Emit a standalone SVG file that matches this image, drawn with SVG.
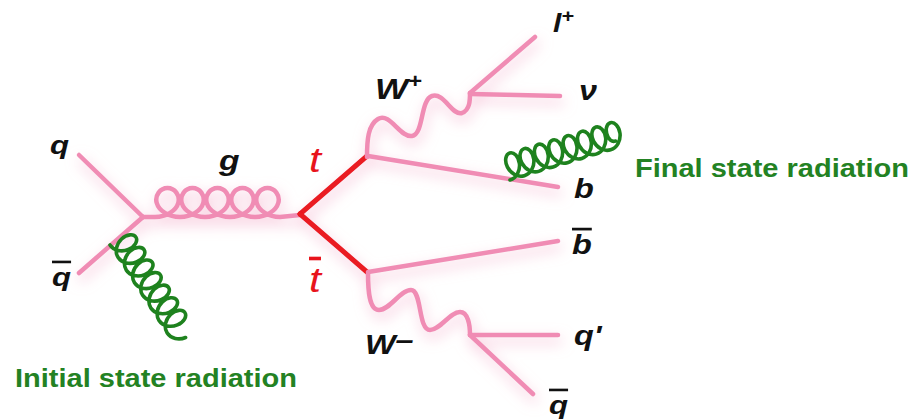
<svg xmlns="http://www.w3.org/2000/svg" width="924" height="419" viewBox="0 0 924 419">
<defs>
  <style>
    .pk{fill:none;stroke:#f08cb4;stroke-width:4.5;stroke-linecap:round;stroke-linejoin:round}
    .rd{fill:none;stroke:#ea1a23;stroke-width:5;stroke-linecap:round;stroke-linejoin:round}
    .gr{fill:none;stroke:#1e821e;stroke-width:3.6;stroke-linecap:round;stroke-linejoin:round}
    .lbl{font-family:"Liberation Sans",Arial,sans-serif;font-weight:bold;font-style:italic;fill:#111}
    .top{font-family:"Liberation Sans",Arial,sans-serif;font-style:italic;fill:#e8141c;font-size:36px}
    .rad{font-family:"Liberation Sans",Arial,sans-serif;font-weight:bold;fill:#238223;font-size:25px}
    .ov{text-decoration:overline}
  </style>
  <filter id="glow" x="-20%" y="-20%" width="140%" height="150%">
    <feGaussianBlur in="SourceAlpha" stdDeviation="7" result="b"/>
    <feOffset in="b" dx="2" dy="6" result="o"/>
    <feFlood flood-color="#f2a3c3" flood-opacity="0.7"/>
    <feComposite in2="o" operator="in" result="s"/>
    <feMerge><feMergeNode in="s"/><feMergeNode in="SourceGraphic"/></feMerge>
  </filter>
</defs>
<rect width="924" height="419" fill="#fff"/>

<g id="connectors">
  <g filter="url(#glow)">
    <line class="pk" x1="79" y1="155" x2="143" y2="217"/>
    <line class="pk" x1="79" y1="273" x2="143" y2="217"/>
    <path class="pk" stroke-width="4" d="M143,217 L155,217
      c11.54,0 21.06,-6.3 23.25,-14 c2.19,-7.7 -3.59,-15 -10.75,-15 c-7.16,0 -12.94,7.3 -10.75,15 c2.19,7.7 11.71,14 23.25,14
      c11.54,0 21.06,-6.3 23.25,-14 c2.19,-7.7 -3.59,-15 -10.75,-15 c-7.16,0 -12.94,7.3 -10.75,15 c2.19,7.7 11.71,14 23.25,14
      c11.54,0 21.06,-6.3 23.25,-14 c2.19,-7.7 -3.59,-15 -10.75,-15 c-7.16,0 -12.94,7.3 -10.75,15 c2.19,7.7 11.71,14 23.25,14
      c11.54,0 21.06,-6.3 23.25,-14 c2.19,-7.7 -3.59,-15 -10.75,-15 c-7.16,0 -12.94,7.3 -10.75,15 c2.19,7.7 11.71,14 23.25,14
      c11.54,0 21.06,-6.3 23.25,-14 c2.19,-7.7 -3.59,-15 -10.75,-15 c-7.16,0 -12.94,7.3 -10.75,15 c2.19,7.7 11.71,14 23.25,14
      L300,215"/>
    <line class="rd" x1="300" y1="214" x2="367" y2="156"/>
    <line class="rd" x1="300" y1="214" x2="367" y2="272"/>
    <line class="pk" x1="368" y1="156" x2="558" y2="187"/>
    <line class="pk" x1="368" y1="272" x2="558" y2="241"/>
    <path class="pk" d="M367,157 C367,140 368,125 378,119 C390,112 400,138 412,136 C424,134 420,100 432,96 C444,92 452,116 462,113 C470,110 470,100 470,93"/>
    <line class="pk" x1="470" y1="93" x2="535" y2="37"/>
    <line class="pk" x1="470" y1="94" x2="560" y2="96"/>
    <path class="pk" d="M368,273 C368,290 369,310 379,310 C390,310 400,290 411,290 C422,290 418,330 430,330 C440,330 450,312 460,312 C468,312 470,325 470,335"/>
    <line class="pk" x1="470" y1="335" x2="558" y2="335"/>
    <line class="pk" x1="470" y1="335" x2="533" y2="394"/>
  </g>
  <path class="gr" transform="translate(110,245) rotate(57)" d="M0,0
    c6.81,0 12.44,-5.85 13.75,-13 c1.31,-7.15 -2.06,-13 -6.25,-13 c-4.19,0 -7.56,5.85 -6.25,13 c1.31,7.15 6.94,13 13.75,13
    c6.81,0 12.44,-5.85 13.75,-13 c1.31,-7.15 -2.06,-13 -6.25,-13 c-4.19,0 -7.56,5.85 -6.25,13 c1.31,7.15 6.94,13 13.75,13
    c6.81,0 12.44,-5.85 13.75,-13 c1.31,-7.15 -2.06,-13 -6.25,-13 c-4.19,0 -7.56,5.85 -6.25,13 c1.31,7.15 6.94,13 13.75,13
    c6.81,0 12.44,-5.85 13.75,-13 c1.31,-7.15 -2.06,-13 -6.25,-13 c-4.19,0 -7.56,5.85 -6.25,13 c1.31,7.15 6.94,13 13.75,13
    c6.81,0 12.44,-5.85 13.75,-13 c1.31,-7.15 -2.06,-13 -6.25,-13 c-4.19,0 -7.56,5.85 -6.25,13 c1.31,7.15 6.94,13 13.75,13
    c6.81,0 12.44,-5.85 13.75,-13 c1.31,-7.15 -2.06,-13 -6.25,-13 c-4.19,0 -7.56,5.85 -6.25,13 c1.31,7.15 6.94,13 13.75,13
    c6.81,0 12.44,-5.85 13.75,-13 c1.31,-7.15 -2.06,-13 -6.25,-13 c-4.19,0 -7.56,5.85 -6.25,13 c1.31,7.15 6.94,13 13.75,13
    c6.81,0 12.44,-5.85 13.75,-13"/>
  <path class="gr" transform="translate(510,180) rotate(-16.7)" d="M0,0
    c6.81,0 12.44,-5.85 13.75,-13 c1.31,-7.15 -2.06,-13 -6.25,-13 c-4.19,0 -7.56,5.85 -6.25,13 c1.31,7.15 6.94,13 13.75,13
    c6.81,0 12.44,-5.85 13.75,-13 c1.31,-7.15 -2.06,-13 -6.25,-13 c-4.19,0 -7.56,5.85 -6.25,13 c1.31,7.15 6.94,13 13.75,13
    c6.81,0 12.44,-5.85 13.75,-13 c1.31,-7.15 -2.06,-13 -6.25,-13 c-4.19,0 -7.56,5.85 -6.25,13 c1.31,7.15 6.94,13 13.75,13
    c6.81,0 12.44,-5.85 13.75,-13 c1.31,-7.15 -2.06,-13 -6.25,-13 c-4.19,0 -7.56,5.85 -6.25,13 c1.31,7.15 6.94,13 13.75,13
    c6.81,0 12.44,-5.85 13.75,-13 c1.31,-7.15 -2.06,-13 -6.25,-13 c-4.19,0 -7.56,5.85 -6.25,13 c1.31,7.15 6.94,13 13.75,13
    c6.81,0 12.44,-5.85 13.75,-13 c1.31,-7.15 -2.06,-13 -6.25,-13 c-4.19,0 -7.56,5.85 -6.25,13 c1.31,7.15 6.94,13 13.75,13
    c6.81,0 12.44,-5.85 13.75,-13 c1.31,-7.15 -2.06,-13 -6.25,-13 c-4.19,0 -7.56,5.85 -6.25,13 c1.31,7.15 6.94,13 13.75,13
    c6.81,0 12.44,-5.85 13.75,-13 c1.31,-7.15 -2.06,-13 -6.25,-13 c-4.19,0 -7.56,5.85 -6.25,13
    c0.8,4 3,6 6,6"/>
</g>

<g id="node-q"><text class="lbl" font-size="26" transform="matrix(1.2,0,0,1,50,154)">q</text></g>
<g id="node-qbar-in"><text class="lbl ov" font-size="26" transform="matrix(1.2,0,0,1,52,286)">q</text></g>
<g id="node-g"><text class="lbl" font-size="28" transform="matrix(1.2,0,0,1,219,170)">g</text></g>
<g id="node-t"><text class="top" transform="matrix(1.2,0,0,1,309,172)">t</text></g>
<g id="node-tbar"><text class="top ov" transform="matrix(1.2,0,0,1,309,292)">t</text></g>
<g id="node-Wplus"><text class="lbl" font-size="29" transform="matrix(1.2,0,0,1,375,99)">W<tspan font-size="20" dy="-11">+</tspan></text></g>
<g id="node-lplus"><text class="lbl" font-size="25" transform="matrix(1.2,0,0,1,553,32)">l<tspan font-size="18" dy="-10">+</tspan></text></g>
<g id="node-nu"><text class="lbl" font-size="27" font-style="normal" transform="matrix(1.2,0,0,1,579,100)">ν</text></g>
<g id="node-b"><text class="lbl" font-size="27" transform="matrix(1.2,0,0,1,574,198)">b</text></g>
<g id="node-bbar"><text class="lbl ov" font-size="27" transform="matrix(1.2,0,0,1,572,254)">b</text></g>
<g id="node-Wminus"><text class="lbl" font-size="27" transform="matrix(1.2,0,0,1,365,354)">W<tspan dy="-5">–</tspan></text></g>
<g id="node-qprime"><text class="lbl" font-size="27" transform="matrix(1.2,0,0,1,574,345)">q'</text></g>
<g id="node-qbar-out"><text class="lbl ov" font-size="26" transform="matrix(1.2,0,0,1,549,414)">q</text></g>
<g id="label-isr"><text class="rad" x="15" y="387" textLength="282" lengthAdjust="spacingAndGlyphs">Initial state radiation</text></g>
<g id="label-fsr"><text class="rad" x="635" y="177" textLength="274" lengthAdjust="spacingAndGlyphs">Final state radiation</text></g>
</svg>
